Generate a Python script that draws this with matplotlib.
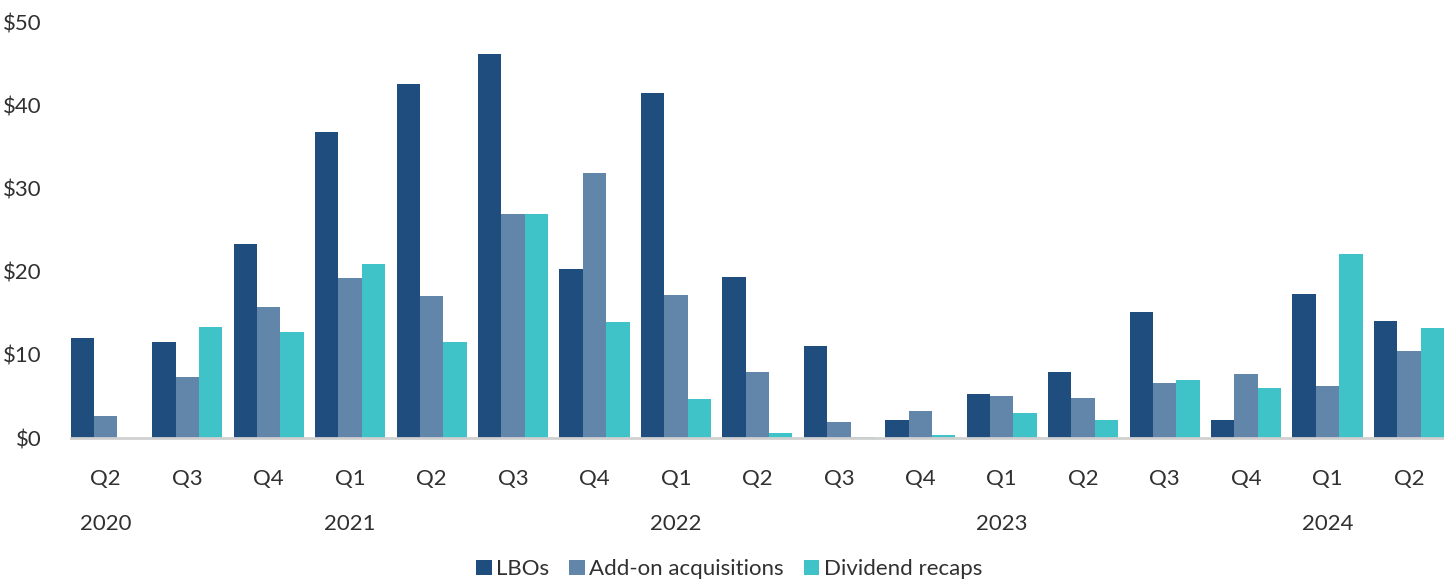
import matplotlib
matplotlib.use("Agg")
import matplotlib.pyplot as plt
import numpy as np

quarters = ["Q2", "Q3", "Q4", "Q1", "Q2", "Q3", "Q4", "Q1", "Q2", "Q3", "Q4",
            "Q1", "Q2", "Q3", "Q4", "Q1", "Q2"]
years = ["2020", "2021", "2022", "2023", "2024"]
year_pos = [0, 3, 7, 11, 15]

lbos = [12.0, 11.5, 23.3, 36.8, 42.5, 46.2, 20.3, 41.5, 19.4, 11.1, 2.2,
        5.3, 7.9, 15.1, 2.2, 17.3, 14.1]
addons = [2.6, 7.3, 15.7, 19.2, 17.1, 26.9, 31.9, 17.2, 7.9, 1.9, 3.2,
          5.0, 4.8, 6.6, 7.7, 6.2, 10.5]
recaps = [0.0, 13.3, 12.7, 20.9, 11.5, 26.9, 13.9, 4.7, 0.6, 0.1, 0.4,
          3.0, 2.2, 7.0, 6.0, 22.1, 13.2]

series = [("LBOs", lbos, "#1F4E7E"),
          ("Add-on acquisitions", addons, "#6186A9"),
          ("Dividend recaps", recaps, "#40C3C8")]

plt.rcParams["font.family"] = ["Lato", "DejaVu Sans"]
text_color = "#303030"
fs = 16

fig = plt.figure(figsize=(14.44, 5.81), dpi=100)
ax = fig.add_axes([0.049, 0.246, 0.951, 0.716])

x = np.arange(len(quarters))
w = 0.287
for i, (name, vals, color) in enumerate(series):
    ax.bar(x + (i - 1) * w, vals, width=w, color=color, label=name)

ax.set_xlim(-0.43, len(quarters) - 0.57)
ax.set_ylim(0, 50)
ax.set_yticks(range(0, 51, 10))
ax.set_yticklabels([f"${v}" for v in range(0, 51, 10)])
ax.set_xticks(x)
ax.set_xticklabels(quarters)
ax.tick_params(axis="both", length=0, labelsize=fs, labelcolor=text_color)
ax.tick_params(axis="x", pad=22)
ax.tick_params(axis="y", pad=21)

for s in ["top", "right", "left"]:
    ax.spines[s].set_visible(False)
ax.spines["bottom"].set_color("#D0D0D0")
ax.spines["bottom"].set_linewidth(2)

for yr, pos in zip(years, year_pos):
    ax.text(pos, -0.207, yr, transform=ax.get_xaxis_transform(),
            ha="center", va="center", fontsize=fs, color=text_color)

fig.legend(loc="center", bbox_to_anchor=(0.505, 0.02), ncol=3, frameon=False,
           fontsize=fs, handlelength=0.7, handleheight=0.7, handletextpad=0.2,
           columnspacing=0.9, labelcolor=text_color)

fig.savefig("out.png", dpi=100)
